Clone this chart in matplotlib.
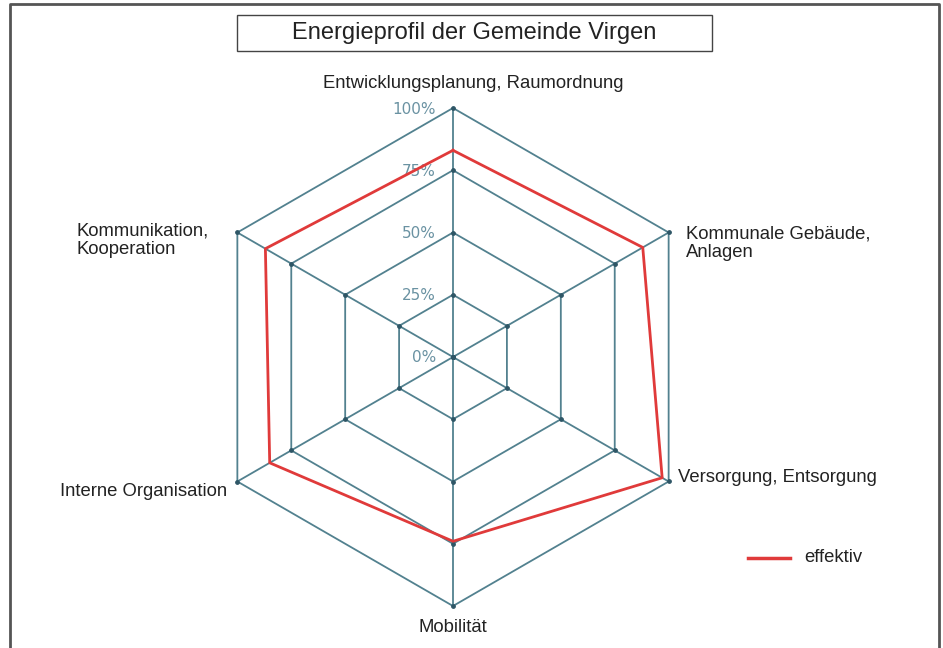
import matplotlib.pyplot as plt
import numpy as np
from matplotlib.patches import Rectangle

plt.rcParams["font.family"] = ["Liberation Sans", "DejaVu Sans"]

# Daten
kategorien = [
    "Entwicklungsplanung, Raumordnung",
    "Kommunale Gebäude,\nAnlagen",
    "Versorgung, Entsorgung",
    "Mobilität",
    "Interne Organisation",
    "Kommunikation,\nKooperation",
]
effektiv = [0.83, 0.88, 0.97, 0.74, 0.85, 0.87]
stufen = [0.0, 0.25, 0.5, 0.75, 1.0]
stufen_labels = ["0%", "25%", "50%", "75%", "100%"]

# Geometrie (Pixel)
cx, cy, radius = 453, 357, 249
gitter_farbe = "#52818f"
rot = "#e03a3a"

n = len(kategorien)
winkel = np.arange(n) * 2 * np.pi / n


def punkte(werte):
    werte = np.asarray(werte)
    x = cx + radius * werte * np.sin(winkel)
    y = cy - radius * werte * np.cos(winkel)
    return np.append(x, x[0]), np.append(y, y[0])


fig = plt.figure(figsize=(9.43, 6.48), dpi=100)
ax = fig.add_axes([0, 0, 1, 1])
ax.set_xlim(0, 943)
ax.set_ylim(648, 0)
ax.axis("off")

# Rahmen
ax.plot([10, 10, 939, 939], [648, 4, 4, 648], color="#555555", lw=2)

# Titel
ax.add_patch(Rectangle((237, 15), 475, 36, fill=False, ec="#444444", lw=1))
ax.text(474.5, 33, "Energieprofil der Gemeinde Virgen", ha="center", va="center",
        fontsize=17, color="#222222")

# Gitter
for s in stufen[1:]:
    x, y = punkte([s] * n)
    ax.plot(x, y, color=gitter_farbe, lw=1.3, zorder=1)
x_aussen, y_aussen = punkte([1.0] * n)
for i in range(n):
    ax.plot([cx, x_aussen[i]], [cy, y_aussen[i]], color=gitter_farbe, lw=1.3, zorder=1)
for s in stufen:
    x, y = punkte([s] * n)
    ax.scatter(x[:-1], y[:-1], s=6, color="#2e5666", zorder=2)

# Prozent-Beschriftung
for s, lab in zip(stufen, stufen_labels):
    ax.text(436, cy - radius * s + 1, lab, ha="right", va="center", fontsize=11,
            color="#6a92a2", family="DejaVu Sans Condensed")

# Serie
x, y = punkte(effektiv)
ax.plot(x, y, color=rot, lw=2, zorder=3)

# Kategorie-Beschriftung
tx = dict(fontsize=13.3, color="#222222")
ax.text(473, 84, kategorien[0], ha="center", va="center", **tx)
ax.text(686, 243, kategorien[1], ha="left", va="center", linespacing=1.15, **tx)
ax.text(678, 478, kategorien[2], ha="left", va="center", **tx)
ax.text(453, 628, kategorien[3], ha="center", va="center", **tx)
ax.text(227, 492, kategorien[4], ha="right", va="center", **tx)
ax.text(77, 240, kategorien[5], ha="left", va="center", linespacing=1.15, **tx)

# Legende
ax.plot([748, 790], [558, 558], color=rot, lw=2.5)
ax.text(804, 557, "effektiv", ha="left", va="center", **tx)

fig.savefig("out.png", dpi=100)
